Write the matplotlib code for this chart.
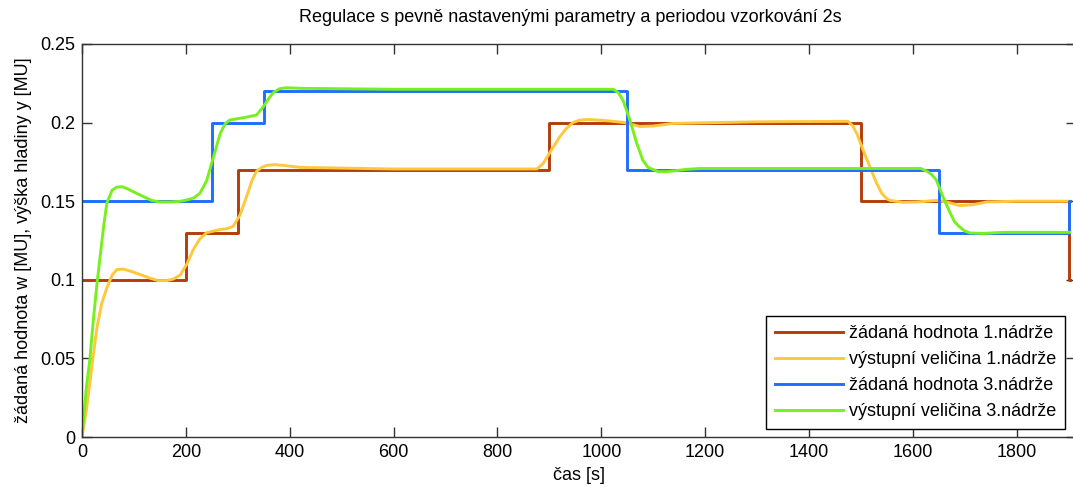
import matplotlib as mpl
mpl.use('Agg')
import matplotlib.pyplot as plt

# setpoints (step changes), time in s, level in MU
w1_t = [0, 200, 300, 900, 1500, 1900, 1902]
w1 = [0.10, 0.13, 0.17, 0.20, 0.15, 0.10, 0.10]
w3_t = [0, 250, 350, 1050, 1650, 1900, 1902]
w3 = [0.15, 0.20, 0.22, 0.17, 0.13, 0.15, 0.15]

# tank 1 output
y1_t = [0, 8, 15, 22, 29, 38, 48, 58, 67, 80, 98, 115, 131, 147, 163, 176, 189,
        202, 214, 227, 240, 253, 266, 279, 291, 304, 317, 327, 336, 346, 356, 371,
        387, 420, 600, 876, 888, 901, 920, 932, 945, 958, 972, 1000, 1017, 1045,
        1074, 1100, 1138, 1300, 1475, 1484, 1492, 1504, 1517, 1530, 1540, 1550,
        1556, 1581, 1607, 1645, 1665, 1690, 1716, 1742, 1800, 1902]
y1 = [0, 0.016, 0.034, 0.053, 0.070, 0.085, 0.095, 0.103, 0.1065, 0.1068, 0.105,
      0.103, 0.101, 0.0995, 0.0995, 0.1005, 0.103, 0.110, 0.119, 0.126, 0.130,
      0.131, 0.132, 0.1325, 0.134, 0.141, 0.153, 0.163, 0.169, 0.1715, 0.1728,
      0.1732, 0.1728, 0.1715, 0.1705, 0.1705, 0.174, 0.181, 0.191, 0.196, 0.200,
      0.2015, 0.202, 0.2015, 0.201, 0.200, 0.1975, 0.1978, 0.1995, 0.2005, 0.2008,
      0.198, 0.193, 0.1826, 0.172, 0.1615, 0.155, 0.1515, 0.1505, 0.1493, 0.1495,
      0.1505, 0.1495, 0.1472, 0.1478, 0.1495, 0.150, 0.150]

# tank 3 output
y3_t = [0, 8, 15, 22, 29, 35, 42, 48, 58, 67, 77, 87, 102, 118, 134, 150, 170, 190,
        202, 215, 227, 240, 253, 266, 276, 285, 300, 317, 336, 349, 359, 368, 380,
        394, 420, 600, 1023, 1033, 1042, 1055, 1068, 1080, 1090, 1097, 1110, 1126,
        1145, 1165, 1190, 1400, 1615, 1627, 1636, 1645, 1658, 1671, 1680, 1690,
        1700, 1710, 1735, 1773, 1902]
y3 = [0, 0.030, 0.049, 0.075, 0.098, 0.115, 0.135, 0.149, 0.157, 0.159, 0.1592,
      0.158, 0.1555, 0.153, 0.1505, 0.1495, 0.1495, 0.150, 0.1508, 0.152, 0.155,
      0.163, 0.178, 0.193, 0.1995, 0.2017, 0.2025, 0.2035, 0.2048, 0.210, 0.215,
      0.219, 0.2215, 0.2222, 0.2218, 0.2212, 0.2212, 0.219, 0.214, 0.2017, 0.187,
      0.176, 0.1715, 0.1705, 0.1688, 0.1688, 0.1695, 0.1703, 0.1708, 0.1708,
      0.1708, 0.169, 0.167, 0.1635, 0.1527, 0.143, 0.137, 0.1336, 0.131, 0.1298,
      0.1295, 0.1302, 0.1302]

xticks = [0, 200, 400, 600, 800, 1000, 1200, 1400, 1600, 1800]
yticks = [0, 0.05, 0.1, 0.15, 0.2, 0.25]
ytick_labels = ['0', '0.05', '0.1', '0.15', '0.2', '0.25']

plt.rcParams['font.family'] = ['Liberation Sans', 'DejaVu Sans']

fig = plt.figure(figsize=(10.73, 4.87), dpi=100)
# right edge of the axes sits just past the image border (cropped like the original)
ax = fig.add_axes([82 / 1073, 50 / 487, 994 / 1073, 393 / 487])

lw = 2.1
ax.plot(w1_t, w1, drawstyle='steps-post', color='#b43c0a', lw=lw, label='žádaná hodnota 1.nádrže')
ax.plot(y1_t, y1, color='#ffc83c', lw=lw, label='výstupní veličina 1.nádrže')
ax.plot(w3_t, w3, drawstyle='steps-post', color='#1e6eff', lw=lw, label='žádaná hodnota 3.nádrže')
ax.plot(y3_t, y3, color='#78f01e', lw=lw, label='výstupní veličina 3.nádrže')

ax.set_xlim(0, 1914)
ax.set_ylim(0, 0.25)
ax.set_xticks(xticks)
ax.set_yticks(yticks)
ax.set_yticklabels(ytick_labels)
ax.tick_params(direction='in', top=True, right=True, length=7.5, width=1,
               color='#333333', labelsize=13, pad=5)
for s in ax.spines.values():
    s.set_color('#333333')
    s.set_linewidth(1)

ax.set_xlabel('čas [s]', fontsize=13, labelpad=4)
ax.set_ylabel('žádaná hodnota w [MU], výška hladiny y [MU]', fontsize=13, labelpad=6)
fig.text(570 / 1073, 1 - 18 / 487, 'Regulace s pevně nastavenými parametry a periodou vzorkování 2s',
         ha='center', va='center', fontsize=13)

leg = ax.legend(loc='lower right', bbox_to_anchor=(1065 / 1073, 58 / 487),
                bbox_transform=fig.transFigure, fontsize=13, fancybox=False,
                edgecolor='black', framealpha=1, handlelength=3.8,
                borderaxespad=0, labelspacing=0.5, handletextpad=0.3,
                borderpad=0.5)
leg.get_frame().set_linewidth(1)

plt.savefig('out.png', dpi=100)
